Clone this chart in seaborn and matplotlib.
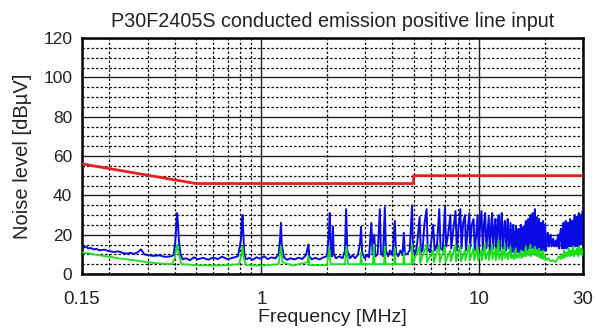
import matplotlib
matplotlib.use("Agg")
import matplotlib.pyplot as plt
import seaborn as sns
import pandas as pd
from matplotlib.ticker import FixedLocator, NullFormatter

# ---------------- data ----------------
limit_freq = [0.15, 0.5, 5.0, 5.0, 30.0]
limit_level = [56, 46, 46, 50, 50]

peak_freq = [
    0.15, 0.153, 0.157, 0.16, 0.165, 0.17, 0.175, 0.18, 0.19, 0.2, 0.21, 0.22, 0.23, 0.24, 0.25,
    0.26, 0.27, 0.28, 0.29, 0.3, 0.32, 0.34, 0.36, 0.38, 0.395, 0.402, 0.407, 0.41, 0.413, 0.418,
    0.425, 0.435, 0.45, 0.47, 0.49, 0.51, 0.54, 0.57, 0.6, 0.63, 0.66, 0.7, 0.74, 0.78, 0.805,
    0.815, 0.82, 0.825, 0.835, 0.85, 0.88, 0.91, 0.95, 0.99, 1.03, 1.07, 1.11, 1.16, 1.2, 1.22,
    1.23, 1.24, 1.27, 1.31, 1.36, 1.42, 1.48, 1.54, 1.6, 1.63, 1.645, 1.66, 1.7, 1.77, 1.85,
    1.93, 2.0, 2.04, 2.06, 2.08, 2.11, 2.13, 2.15, 2.2, 2.28, 2.36, 2.42, 2.45, 2.48, 2.55,
    2.62, 2.7, 2.78, 2.84, 2.87, 2.9, 2.98, 3.05, 3.12, 3.2, 3.24, 3.3, 3.34, 3.42, 3.5,
    3.54, 3.62, 3.69, 3.73, 3.82, 3.9, 4.0, 4.1, 4.15, 4.25, 4.35, 4.45, 4.51, 4.56, 4.66,
    4.8, 4.92, 4.97, 5.1, 5.2, 5.33, 5.4, 5.5, 5.6, 5.74, 5.8, 5.95, 6.15, 6.25, 6.4,
    6.56, 6.65, 6.8, 6.97, 7.05, 7.2, 7.38, 7.45, 7.6, 7.79, 7.9, 8.05, 8.2, 8.3, 8.45,
    8.61, 8.7, 8.85, 9.02, 9.1, 9.25, 9.43, 9.55, 9.7, 9.84, 9.95, 10.1, 10.25, 10.4, 10.55,
    10.66, 10.8, 10.95, 11.07, 11.2, 11.35, 11.48, 11.6, 11.75, 11.89, 12.0, 12.15, 12.3, 12.45, 12.6,
    12.71, 12.85, 13.0, 13.12, 13.3, 13.45, 13.53, 13.7, 13.85, 13.94, 14.1, 14.25, 14.35, 14.5, 14.65,
    14.76, 14.9, 15.05, 15.17, 15.3, 15.45, 15.58, 15.7, 15.85, 15.99, 16.1, 16.25, 16.4, 16.55, 16.7,
    16.81, 16.95, 17.1, 17.22, 17.35, 17.5, 17.63, 17.8, 17.9, 18.04, 18.2, 18.35, 18.45, 18.6, 18.75,
    18.86, 19.0, 19.15, 19.27, 19.4, 19.55, 19.68, 19.85, 20.0, 20.1, 20.3, 20.5, 20.7, 20.9, 21.1,
    21.3, 21.5, 21.7, 21.9, 22.1, 22.3, 22.5, 22.7, 22.9, 23.1, 23.3, 23.5, 23.75, 24.0, 24.2,
    24.4, 24.6, 24.8, 25.0, 25.2, 25.4, 25.6, 25.8, 26.0, 26.2, 26.4, 26.6, 26.8, 27.0, 27.2,
    27.5, 27.7, 27.9, 28.1, 28.3, 28.5, 28.7, 28.9, 29.1, 29.3, 29.5, 29.7, 29.9, 30.0,
]
peak_level = [
    14, 13.5, 14, 13, 13.2, 12.5, 12.8, 12, 12.4, 11.6, 11.2, 11.5, 10.8, 10.3, 10.8,
    10.2, 11, 12.5, 10, 9.6, 9.2, 9.5, 8.7, 8.9, 9.5, 16, 25, 31, 27, 17,
    10, 7.5, 8, 7, 8.5, 7.5, 8.2, 7.3, 8.4, 7.6, 8.8, 7.5, 8.3, 9, 17,
    27, 30, 22, 10, 7.5, 8.2, 7.2, 8.5, 7.8, 9, 7.6, 8.4, 8, 10, 19,
    26, 15, 8.5, 7.2, 8, 7.4, 8.3, 7.6, 9.5, 13, 15, 9, 7.5, 8.2, 7.4,
    8.5, 9, 20, 31, 14, 9, 24, 10, 8, 9, 8, 12, 33, 12, 8,
    9.5, 8, 10, 16, 24, 11, 8, 9.5, 8.5, 26, 10, 20, 9, 10, 33,
    11, 9, 34, 12, 9, 12, 9.5, 27, 11, 9, 12, 9.5, 21, 10, 10,
    12, 35, 12, 10, 16, 29, 11, 12, 25, 33, 13, 11, 25, 12, 14,
    33, 13, 12, 34, 14, 20, 30, 13, 22, 32, 12, 24, 33, 13, 26,
    30, 12, 22, 31, 13, 25, 28, 12, 20, 30, 13, 24, 32, 12, 27,
    31, 13, 22, 29, 11, 25, 31, 13, 23, 28, 12, 24, 30, 12, 26,
    31, 13, 22, 27, 12, 24, 28, 13, 21, 26, 11, 22, 25, 11, 19,
    24, 11, 20, 23, 11, 21, 25, 12, 22, 24, 11, 23, 27, 12, 25,
    28, 13, 24, 30, 13, 26, 31, 13, 27, 33, 13, 27, 29, 12, 25,
    28, 12, 22, 26, 12, 24, 27, 12, 22, 25, 12, 19, 21, 14, 18,
    20, 14, 16, 18, 14, 15, 17, 14, 18, 20, 13, 20, 23, 13, 22,
    26, 13, 24, 27, 13, 23, 26, 14, 25, 28, 14, 24, 27, 14, 26,
    30, 14, 25, 29, 14, 27, 31, 15, 26, 30, 15, 27, 32, 16,
]

avg_freq = [
    0.15, 0.16, 0.17, 0.18, 0.2, 0.22, 0.24, 0.26, 0.28, 0.3, 0.33, 0.36, 0.39, 0.4, 0.41,
    0.42, 0.43, 0.5, 0.6, 0.7, 0.79, 0.81, 0.82, 0.83, 0.85, 1.0, 1.2, 1.23, 1.25, 1.4,
    1.63, 1.645, 1.66, 2.0, 2.05, 2.08, 2.42, 2.46, 2.5, 2.85, 2.87, 2.9, 3.25, 3.28, 3.31,
    3.66, 3.69, 3.72, 4.07, 4.1, 4.13, 4.48, 4.51, 4.55, 4.89, 4.92, 4.96, 5.33, 5.36, 5.74,
    5.77, 6.15, 6.2, 6.56, 6.6, 6.97, 7.0, 7.38, 7.42, 7.79, 7.83, 8.2, 8.25, 8.61, 8.65,
    9.02, 9.06, 9.43, 9.5, 9.84, 9.9, 10.25, 10.3, 10.66, 10.7, 11.07, 11.1, 11.48, 11.52, 11.89,
    11.93, 12.3, 12.35, 12.71, 12.75, 13.12, 13.17, 13.53, 13.57, 13.94, 14.0, 14.35, 14.4, 14.76, 14.8,
    15.17, 15.22, 15.58, 15.63, 15.99, 16.05, 16.4, 16.45, 16.81, 16.86, 17.22, 17.27, 17.63, 17.7, 18.04,
    18.1, 18.45, 18.5, 18.86, 18.9, 19.27, 19.3, 19.68, 19.75, 20.1, 20.2, 20.8, 21.3, 21.9, 22.4,
    22.9, 23.3, 23.7, 24.0, 24.3, 24.6, 24.9, 25.2, 25.5, 25.8, 26.1, 26.4, 26.7, 27.0, 27.3,
    27.6, 27.9, 28.2, 28.5, 28.8, 29.1, 29.4, 29.7, 30.0,
]
avg_level = [
    11, 10.5, 10, 9.5, 8.8, 8, 7.5, 7, 6.5, 6, 5.5, 5.2, 5, 8, 15,
    9, 5, 4.5, 4.3, 4.5, 5, 10, 14, 8, 4.5, 4.3, 5, 14, 6, 4.3,
    6, 9, 4.5, 4.5, 13, 5, 5, 14, 5, 5, 11, 5, 5, 15, 5,
    5, 14, 5, 5, 13, 5, 5, 11, 5, 5, 15, 5.5, 14, 5.5, 15,
    6, 12, 6, 15, 6, 14, 6, 12, 6.5, 15, 6.5, 14, 6.5, 12, 7,
    15, 7, 13, 7, 14, 7, 12, 7, 16, 7.5, 12, 7, 15, 7.5, 13,
    7, 17, 7.5, 12, 7, 15, 8, 11, 7.5, 14, 8, 10, 7.5, 13, 8,
    10, 8.5, 12, 8, 11, 9, 14, 9, 12, 9.5, 15, 9, 12, 10, 14,
    9.5, 12, 9, 13, 8.5, 11, 8, 12, 7.5, 10, 7, 8, 6.5, 7, 6,
    7.5, 9, 7.5, 10, 8, 12, 8.5, 11, 9, 13, 9, 12, 9.5, 14, 9,
    12, 10, 13, 9, 14, 10, 13, 9.5, 12,
]

x_tick_values = [0.15, 1, 10, 30]
x_tick_labels = ["0.15", "1", "10", "30"]
x_minor_values = [0.2, 0.3, 0.4, 0.5, 0.6, 0.7, 0.8, 0.9, 2, 3, 4, 5, 6, 7, 8, 9, 20]
y_tick_values = [0, 20, 40, 60, 80, 100, 120]
y_minor_values = [5, 10, 15, 25, 30, 35, 45, 50, 55, 65, 70, 75, 85, 90, 95, 105, 110, 115]

title_text = "P30F2405S conducted emission positive line input"
x_label = "Frequency [MHz]"
y_label = "Noise level [dB\u00b5V]"

# ---------------- plot ----------------
sns.set_theme(style="white")
plt.rcParams["font.family"] = ["Liberation Sans", "DejaVu Sans"]

fig = plt.figure(figsize=(5.96, 3.31), dpi=100)
ax = fig.add_axes([82 / 596, 1 - 274 / 331, (583 - 82) / 596, (274 - 38) / 331])

peak_df = pd.DataFrame({"f": peak_freq, "v": peak_level})
avg_df = pd.DataFrame({"f": avg_freq, "v": avg_level})
lim_df = pd.DataFrame({"f": limit_freq, "v": limit_level})

sns.lineplot(data=peak_df, x="f", y="v", ax=ax, color="#0a0ae6", lw=1.4,
             estimator=None, sort=False, zorder=3)
sns.lineplot(data=avg_df, x="f", y="v", ax=ax, color="#18e018", lw=1.3,
             estimator=None, sort=False, zorder=4)
sns.lineplot(data=lim_df, x="f", y="v", ax=ax, color="#e62020", lw=2.0,
             estimator=None, sort=False, zorder=5)

ax.set_xscale("log")
ax.set_xlim(0.15, 30)
ax.set_ylim(0, 120)

ax.xaxis.set_major_locator(FixedLocator(x_tick_values))
ax.set_xticklabels(x_tick_labels)
ax.xaxis.set_minor_locator(FixedLocator(x_minor_values))
ax.xaxis.set_minor_formatter(NullFormatter())
ax.yaxis.set_major_locator(FixedLocator(y_tick_values))
ax.yaxis.set_minor_locator(FixedLocator(y_minor_values))

ax.grid(which="major", axis="both", color="#222222", lw=1.0, ls="-", zorder=1)
ax.grid(which="minor", axis="both", color="#111111", lw=0.9, ls=(0, (2.0, 1.6)), zorder=1)
ax.set_axisbelow(True)

ax.tick_params(which="both", length=0)
ax.tick_params(axis="x", which="major", pad=12, labelsize=13.5, colors="#222222")
ax.tick_params(axis="y", which="major", pad=7, labelsize=12.5, colors="#222222")

for s in ax.spines.values():
    s.set_visible(True)
    s.set_color("black")
    s.set_linewidth(1.8)

ax.set_xlabel(x_label, fontsize=14, color="#222222", labelpad=1)
ax.set_ylabel(y_label, fontsize=14.5, color="#222222", labelpad=8)
ax.set_title(title_text, fontsize=14.2, color="#222222", pad=8)

fig.savefig("out.png", dpi=100)
